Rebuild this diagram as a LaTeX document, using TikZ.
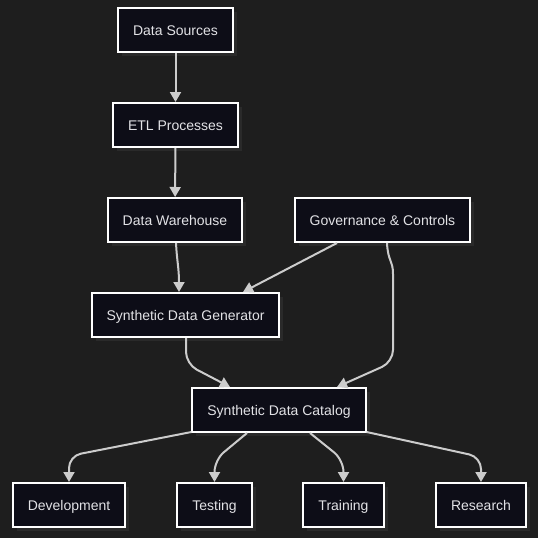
\documentclass[tikz,border=0pt]{standalone}
\usepackage{fontspec}
\setmainfont{Liberation Sans}
\usetikzlibrary{arrows.meta,shadows}
\definecolor{bg}{HTML}{1E1E1E}
\definecolor{boxfill}{HTML}{0D0D17}
\definecolor{shadowc}{HTML}{2A2A2A}
\definecolor{edgec}{HTML}{CCCCCC}
\definecolor{txt}{HTML}{E2E2E6}
\begin{document}
\begin{tikzpicture}[x=1pt,y=-1pt,
  box/.style={draw=white,line width=2pt,fill=boxfill,text=txt,
    font=\fontsize{14pt}{16pt}\selectfont,inner xsep=15pt,inner ysep=0pt,
    text height=12pt,text depth=1.5pt,minimum height=44pt,
    drop shadow={shadow xshift=4pt,shadow yshift=-4pt,fill=shadowc,opacity=1}},
  arr/.style={draw=edgec,line width=2pt,
    -{Triangle[length=10pt,width=11pt]},rounded corners=12pt}]
\fill[bg] (0,0) rectangle (538,538);
\useasboundingbox (0,0) rectangle (538,538);
\node[box] (ds)  at (175.5,30) {Data Sources};
\node[box] (etl) at (175.5,125) {ETL Processes};
\node[box] (dw)  at (175,220) {Data Warehouse};
\node[box] (gov) at (382.5,220) {Governance \& Controls};
\node[box] (sdg) at (185.5,315) {Synthetic Data Generator};
\node[box] (cat) at (279,410) {Synthetic Data Catalog};
\node[box] (dev) at (69,505) {Development};
\node[box] (tst) at (214.5,505) {Testing};
\node[box] (trn) at (343.5,505) {Training};
\node[box] (res) at (481,505) {Research};
\draw[arr] (ds) -- (etl);
\draw[arr] (etl) -- (dw);
\draw[arr] ([xshift=1pt]dw.south) .. controls (177,262) and (179,268) .. ([xshift=-6.5pt]sdg.north);
\draw[arr] ([xshift=-45.5pt]gov.south) -- ([xshift=57.5pt]sdg.north);
\coordinate (g1) at (393,286);
\coordinate (g2) at (393,362);
\draw[arr] ([xshift=4.5pt]gov.south) .. controls (388,262) and (393,260) .. (g1) -- (g2) -- ([xshift=58pt]cat.north);
\coordinate (s1) at (186,364);
\draw[arr] ([xshift=0.5pt]sdg.south) -- (s1) -- ([xshift=-49pt]cat.north);
\coordinate (d1) at (69,456);
\draw[arr] ([yshift=1pt]cat.south west) -- (d1) -- (dev.north);
\coordinate (t1) at (214.5,460);
\draw[arr] ([xshift=-32pt]cat.south) -- (t1) -- (tst.north);
\coordinate (r1) at (343.5,460);
\draw[arr] ([xshift=31pt]cat.south) -- (r1) -- (trn.north);
\coordinate (e1) at (481,457);
\draw[arr] ([yshift=1pt]cat.south east) -- (e1) -- (res.north);
\end{tikzpicture}
\end{document}
